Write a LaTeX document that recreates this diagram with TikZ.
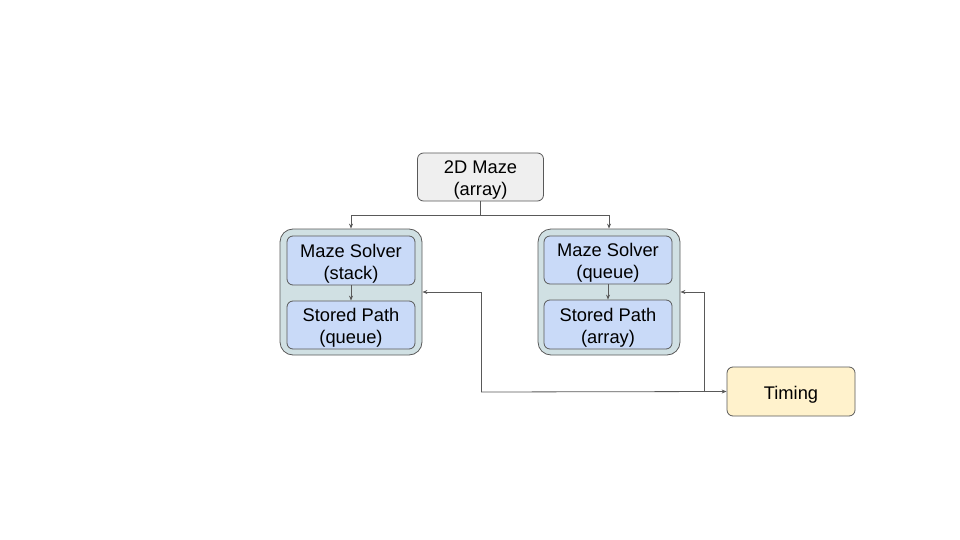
\documentclass[tikz,border=0pt]{standalone}
\usepackage{fontspec}
\setmainfont{Liberation Sans}
\usetikzlibrary{arrows.meta}
\definecolor{linec}{HTML}{595959}
\definecolor{grayfill}{HTML}{EFEFEF}
\definecolor{contfill}{HTML}{D0E0E3}
\definecolor{bluefill}{HTML}{C9DAF8}
\definecolor{yellowfill}{HTML}{FFF2CC}
\newcommand{\boxtxt}[1]{\raisebox{-3.5pt}[\height][\depth]{\begin{tabular}{@{}c@{}}#1\end{tabular}}}
\begin{document}
\begin{tikzpicture}[x=1pt,y=-1pt,
  box/.style={draw=linec, line width=0.8pt, rounded corners=6pt, inner sep=0pt,
    font=\fontsize{18.3}{22}\selectfont, text=black},
  cont/.style={draw=linec, line width=0.8pt, rounded corners=13pt, fill=contfill, inner sep=0pt,
    minimum width=142pt, minimum height=126pt},
  arr/.style={draw=linec, line width=0.8pt, -{Stealth[length=5pt,width=4pt]}},
  ln/.style={draw=linec, line width=0.8pt}]
\useasboundingbox (0,0) rectangle (960,540);
\node[box, fill=grayfill, minimum width=126pt, minimum height=48pt] (maze) at (480.5,177) {\boxtxt{2D Maze\\(array)}};
\node[cont] (lc) at (351,292) {};
\node[cont] (rc) at (609,292) {};
\node[box, fill=bluefill, minimum width=128pt, minimum height=49pt] (ls) at (351,260.5) {\boxtxt{Maze Solver\\(stack)}};
\node[box, fill=bluefill, minimum width=128pt, minimum height=48pt] (lp) at (351,325) {\boxtxt{Stored Path\\(queue)}};
\node[box, fill=bluefill, minimum width=128pt, minimum height=48pt] (rs) at (608,260) {\boxtxt{Maze Solver\\(queue)}};
\node[box, fill=bluefill, minimum width=128pt, minimum height=49pt] (rp) at (608,324.5) {\boxtxt{Stored Path\\(array)}};
\node[box, fill=yellowfill, minimum width=128pt, minimum height=49pt] (t) at (791,391.5) {\boxtxt{Timing}};
\coordinate (split) at (480.5,215);
\coordinate (j1) at (481,392);
\coordinate (j2) at (704,392);
\draw[ln] (maze.south) -- (split);
\draw[arr] (split) -| (lc.north);
\draw[arr] (split) -| (rc.north);
\draw[arr] (ls) -- (lp);
\draw[arr] (rs) -- (rp);
\draw[arr] (j1) |- (lc.east);
\draw[arr] (j1) -- (t.west);
\draw[arr] (j2) |- (rc.east);
\end{tikzpicture}
\end{document}
